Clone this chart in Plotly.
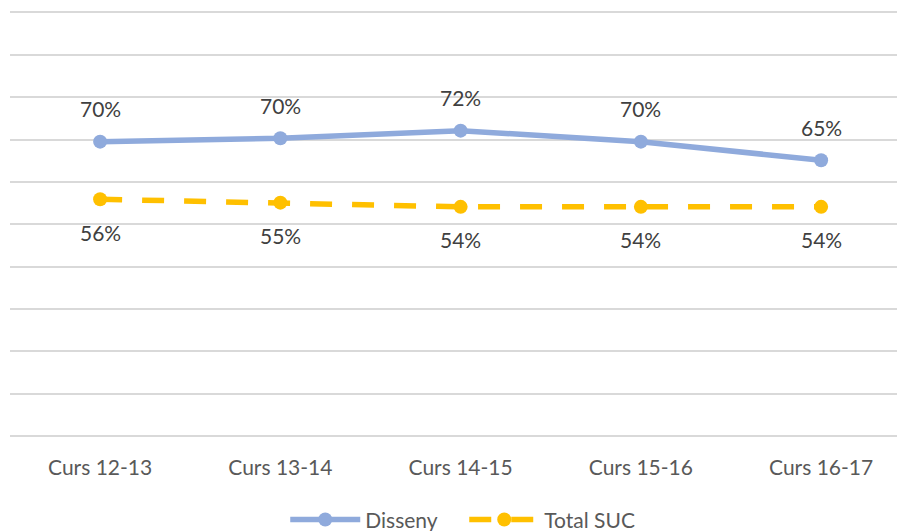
import plotly.graph_objects as go

categories = ["Curs 12-13", "Curs 13-14", "Curs 14-15", "Curs 15-16", "Curs 16-17"]
disseny = [0.695, 0.703, 0.721, 0.695, 0.651]
total_suc = [0.559, 0.551, 0.541, 0.541, 0.541]
disseny_labels = ["70%", "70%", "72%", "70%", "65%"]
total_labels = ["56%", "55%", "54%", "54%", "54%"]

BLUE = "#8FAADC"
YELLOW = "#FFC000"
FONT = "Lato"

fig = go.Figure()
fig.add_trace(go.Scatter(
    x=categories, y=disseny, name="Disseny", mode="lines+markers",
    line=dict(color=BLUE, width=5.5),
    marker=dict(color=BLUE, size=14),
))
fig.add_trace(go.Scatter(
    x=categories, y=total_suc, name="Total SUC", mode="lines+markers",
    line=dict(color=YELLOW, width=5.5, dash="22px,20px"),
    marker=dict(color=YELLOW, size=14),
))

for c, v, t in zip(categories, disseny, disseny_labels):
    fig.add_annotation(x=c, y=v, text=t, showarrow=False, yshift=33,
                       font=dict(family=FONT, size=21, color="#404040"))
for c, v, t in zip(categories, total_suc, total_labels):
    fig.add_annotation(x=c, y=v, text=t, showarrow=False, yshift=-33,
                       font=dict(family=FONT, size=21, color="#404040"))

fig.update_layout(
    width=897, height=531,
    margin=dict(l=10, r=0, t=4, b=95),
    paper_bgcolor="white", plot_bgcolor="white",
    font=dict(family=FONT, size=21, color="#595959"),
    showlegend=True,
    legend=dict(orientation="h", xref="container", yref="container",
                x=0.318, y=0.021, xanchor="left", yanchor="middle",
                font=dict(family=FONT, size=21, color="#595959"),
                itemwidth=70, entrywidth=94, entrywidthmode="pixels"),
    xaxis=dict(type="category", range=[-0.5, 4.421], showgrid=False,
               showline=False, zeroline=False, ticks="",
               ticklabelstandoff=17,
               tickfont=dict(family=FONT, size=21, color="#595959")),
    yaxis=dict(range=[0, 1.02], dtick=0.1, showgrid=True, gridcolor="#D9D9D9",
               gridwidth=1.5, zeroline=True, zerolinecolor="#D9D9D9",
               zerolinewidth=1.5, showticklabels=False, ticks="",
               showline=False),
)

fig.write_html("out.html", config={"displayModeBar": False},
               post_script="document.body.style.margin='0';document.body.style.overflow='hidden';")
